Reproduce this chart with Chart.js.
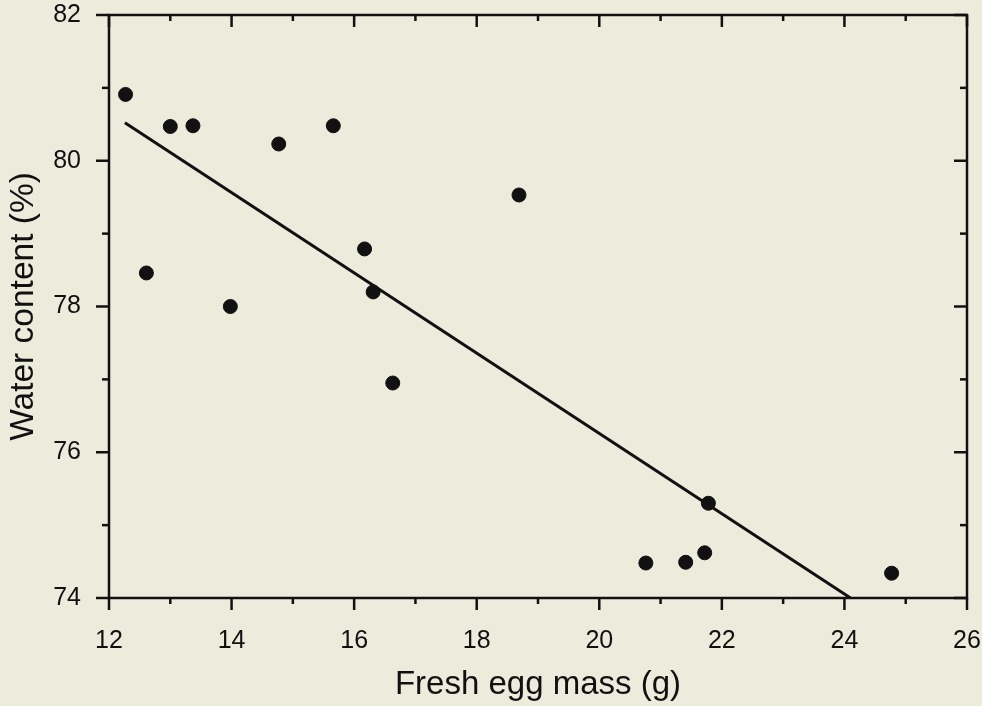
<!DOCTYPE html>
<html>
<head>
<meta charset="utf-8">
<script src="https://cdn.jsdelivr.net/npm/chart.js@4/dist/chart.umd.min.js"></script>
<style>
html,body{margin:0;padding:0;background:#ecebdc;}
#wrap{width:982px;height:706px;position:relative;}
</style>
</head>
<body>
<div id="wrap"><canvas id="c"></canvas></div>
<script>
// fresh egg mass (g) vs water content (%)
const massX=[12.27,12.61,13.00,13.37,13.98,14.77,15.66,16.17,16.31,16.63,18.69,20.76,21.41,21.72,21.78,24.77];
const waterY=[80.91,78.46,80.47,80.48,78.00,80.23,80.48,78.79,78.20,76.95,79.53,74.48,74.49,74.62,75.30,74.34];
// regression line end points
const fitX=[12.26,24.10];
const fitY=[80.52,74.00];
const xTicks=[12,14,16,18,20,22,24,26];
const yTicks=[74,76,78,80,82];

const pts=massX.map((x,i)=>({x:x,y:waterY[i]}));
const fit=fitX.map((x,i)=>({x:x,y:fitY[i]}));

const frame={
 id:'frame',
 beforeDraw(ch){const c=ch.ctx;c.save();c.fillStyle='#ecebdc';c.fillRect(0,0,ch.width,ch.height);c.restore();},
 afterDraw(ch){
  const c=ch.ctx,a=ch.chartArea,xs=ch.scales.x,ys=ch.scales.y;
  c.save();c.strokeStyle='#111';c.lineWidth=2.5;c.lineCap='butt';
  c.strokeRect(a.left,a.top,a.right-a.left,a.bottom-a.top);
  for(let v=xTicks[0];v<=xTicks[xTicks.length-1];v++){
   const px=xs.getPixelForValue(v),len=v%2===0?12:6;
   c.beginPath();c.moveTo(px,a.bottom);c.lineTo(px,a.bottom+len);c.stroke();
   c.beginPath();c.moveTo(px,a.top);c.lineTo(px,a.top+len);c.stroke();
  }
  for(let v=yTicks[0];v<=yTicks[yTicks.length-1];v++){
   const py=ys.getPixelForValue(v),len=v%2===0?13:7;
   c.beginPath();c.moveTo(a.left,py);c.lineTo(a.left-len,py);c.stroke();
   c.beginPath();c.moveTo(a.right,py);c.lineTo(a.right-len,py);c.stroke();
  }
  c.restore();
 }
};

function noPad(s){s.paddingTop=0;s.paddingBottom=0;s.paddingLeft=0;s.paddingRight=0;}

const font='"Liberation Sans", Arial, Helvetica, sans-serif';
new Chart(document.getElementById('c'),{
 type:'scatter',
 data:{datasets:[
  {data:pts,backgroundColor:'#111',borderColor:'#111',pointRadius:7,pointHoverRadius:7,showLine:false},
  {type:'line',data:fit,borderColor:'#111',borderWidth:3,pointRadius:0,fill:false,tension:0}
 ]},
 plugins:[frame],
 options:{
  responsive:true,maintainAspectRatio:false,animation:false,
  layout:{padding:{top:15,right:15,left:0,bottom:0}},
  plugins:{legend:{display:false},tooltip:{enabled:false}},
  scales:{
   x:{type:'linear',min:12,max:26,
    grid:{display:false,drawTicks:false},border:{display:false},
    afterFit:s=>{s.height=108;noPad(s);},
    afterBuildTicks:s=>{s.ticks=xTicks.map(v=>({value:v}))},
    ticks:{padding:28,color:'#111',font:{family:font,size:25}},
    title:{display:true,text:'Fresh egg mass (g)',color:'#111',font:{family:font,size:33},padding:{top:0,bottom:1}}},
   y:{type:'linear',min:74,max:82,
    grid:{display:false,drawTicks:false},border:{display:false},
    afterFit:s=>{s.width=109;noPad(s);},
    afterBuildTicks:s=>{s.ticks=yTicks.map(v=>({value:v}))},
    ticks:{padding:28,color:'#111',font:{family:font,size:25}},
    title:{display:true,text:'Water content (%)',color:'#111',font:{family:font,size:33.5},padding:{top:4,bottom:0}}}
  }
 }
});
</script>
</body>
</html>
